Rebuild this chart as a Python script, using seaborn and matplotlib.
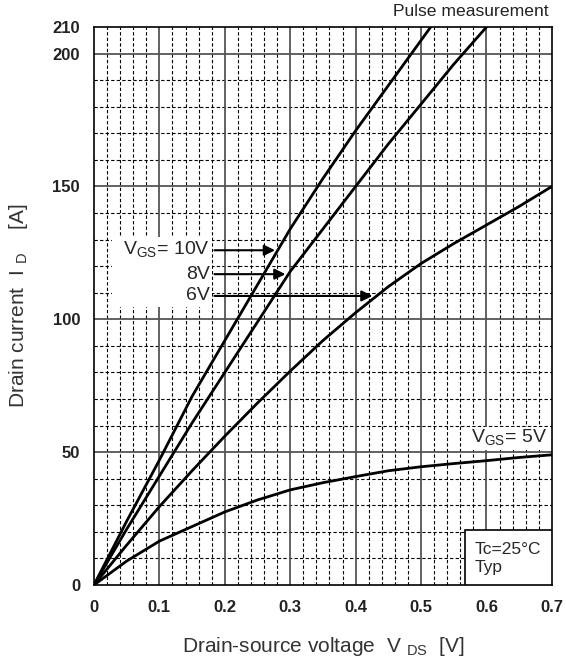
import matplotlib
matplotlib.use("Agg")
import matplotlib.pyplot as plt
import seaborn as sns
import pandas as pd

# Drain current vs drain-source voltage
vds = [0, 0.05, 0.1, 0.15, 0.2, 0.25, 0.3, 0.35, 0.4, 0.45, 0.5, 0.55, 0.6, 0.65, 0.7]
id_10v = [0, 24, 47, 71, 92, 113, 134, 153, 171, 188, 205, 222]
id_8v = [0, 21, 41, 61, 80, 99, 118, 134, 150, 166, 181, 196, 210]
id_6v = [0, 15, 29.5, 43, 56, 68.5, 80.5, 92, 102.5, 112.3, 121, 128.5, 135.5, 142.5, 150]
id_5v = [0, 9, 16.5, 22, 27.5, 32, 35.8, 38.5, 40.8, 43, 44.5, 45.7, 46.8, 48, 49]

x_ticks = [0, 0.1, 0.2, 0.3, 0.4, 0.5, 0.6, 0.7]
y_ticks = [0, 50, 100, 150, 200, 210]

sns.set_style("white")
plt.rcParams['font.family'] = ['Liberation Sans', 'DejaVu Sans']
plt.rcParams['mathtext.fontset'] = 'custom'
plt.rcParams['mathtext.rm'] = 'Liberation Sans'

fig = plt.figure(figsize=(5.66, 6.61), dpi=100)
ax = fig.add_axes([0.166, 0.115, 0.809, 0.844])

# grid first: dashed minors, solid gray majors
for v in [i * 0.02 for i in range(1, 35)]:
    if abs(v * 10 - round(v * 10)) > 1e-6:
        ax.axvline(v, color='black', lw=0.8, ls=(0, (3, 2)), zorder=1)
for v in range(10, 210, 10):
    if v % 50:
        ax.axhline(v, color='black', lw=0.8, ls=(0, (3, 2)), zorder=1)
for v in x_ticks[1:-1]:
    ax.axvline(v, color='#555555', lw=1.3, zorder=1)
for v in [50, 100, 150, 200]:
    ax.axhline(v, color='#555555', lw=1.3, zorder=1)

curves = [(id_10v, '10V'), (id_8v, '8V'), (id_6v, '6V'), (id_5v, '5V')]
for vals, name in curves:
    df = pd.DataFrame({'vds': vds[:len(vals)], 'id': vals})
    sns.lineplot(data=df, x='vds', y='id', ax=ax, color='black', lw=2, zorder=3)

ax.set_xlim(0, 0.7)
ax.set_ylim(0, 210)
ax.set_xticks(x_ticks)
ax.set_xticklabels(['0', '0.1', '0.2', '0.3', '0.4', '0.5', '0.6', '0.7'])
ax.set_yticks(y_ticks)
ax.tick_params(length=0, labelsize=12)
ax.tick_params(axis='x', pad=11)
ax.tick_params(axis='y', pad=10)
for lab in ax.get_xticklabels() + ax.get_yticklabels():
    lab.set_fontweight('bold')
    lab.set_color('#222222')
for s in ax.spines.values():
    s.set_color('black')
    s.set_linewidth(1.2)

ax.set_xlabel('Drain\u2010source voltage  V $_{\\rm DS}$  [V]', fontsize=15, color='#333333', labelpad=14)
ax.set_ylabel('Drain current  I $_{\\rm D}$    [A]', fontsize=15, color='#333333', labelpad=16)

white = dict(facecolor='white', edgecolor='none', pad=1)
# V_GS labels with arrows
ax.add_patch(plt.Rectangle((0.028, 104.5), 0.152, 26.5, facecolor='white', edgecolor='none', zorder=2))
ax.text(0.177, 126, 'V$_{\\rm GS}$= 10V', ha='right', va='center', fontsize=14, zorder=4)
ax.text(0.177, 117, '8V', ha='right', va='center', fontsize=14, zorder=4)
ax.text(0.177, 108.8, '6V', ha='right', va='center', fontsize=14, zorder=4)
arrow = dict(arrowstyle='-|>', color='black', lw=1.5, mutation_scale=16)
ax.annotate('', xy=(0.281, 126), xytext=(0.18, 126), arrowprops=arrow, zorder=5)
ax.annotate('', xy=(0.297, 117), xytext=(0.18, 117), arrowprops=arrow, zorder=5)
ax.annotate('', xy=(0.43, 108.8), xytext=(0.18, 108.8), arrowprops=arrow, zorder=5)

ax.text(0.692, 55.3, 'V$_{\\rm GS}$= 5V', ha='right', va='center', fontsize=14, bbox=white, zorder=4)

ax.add_patch(plt.Rectangle((0.567, 0), 0.133, 20.7, facecolor='white', edgecolor='black', lw=1.2, zorder=4))
ax.text(0.582, 13.5, 'Tc=25\u00b0C', ha='left', va='center', fontsize=12.5, zorder=5)
ax.text(0.582, 6.5, 'Typ', ha='left', va='center', fontsize=12.5, zorder=5)

ax.text(0.695, 213, 'Pulse measurement', ha='right', va='bottom', fontsize=12.6, color='#222222')

fig.savefig('out.png', dpi=100)
